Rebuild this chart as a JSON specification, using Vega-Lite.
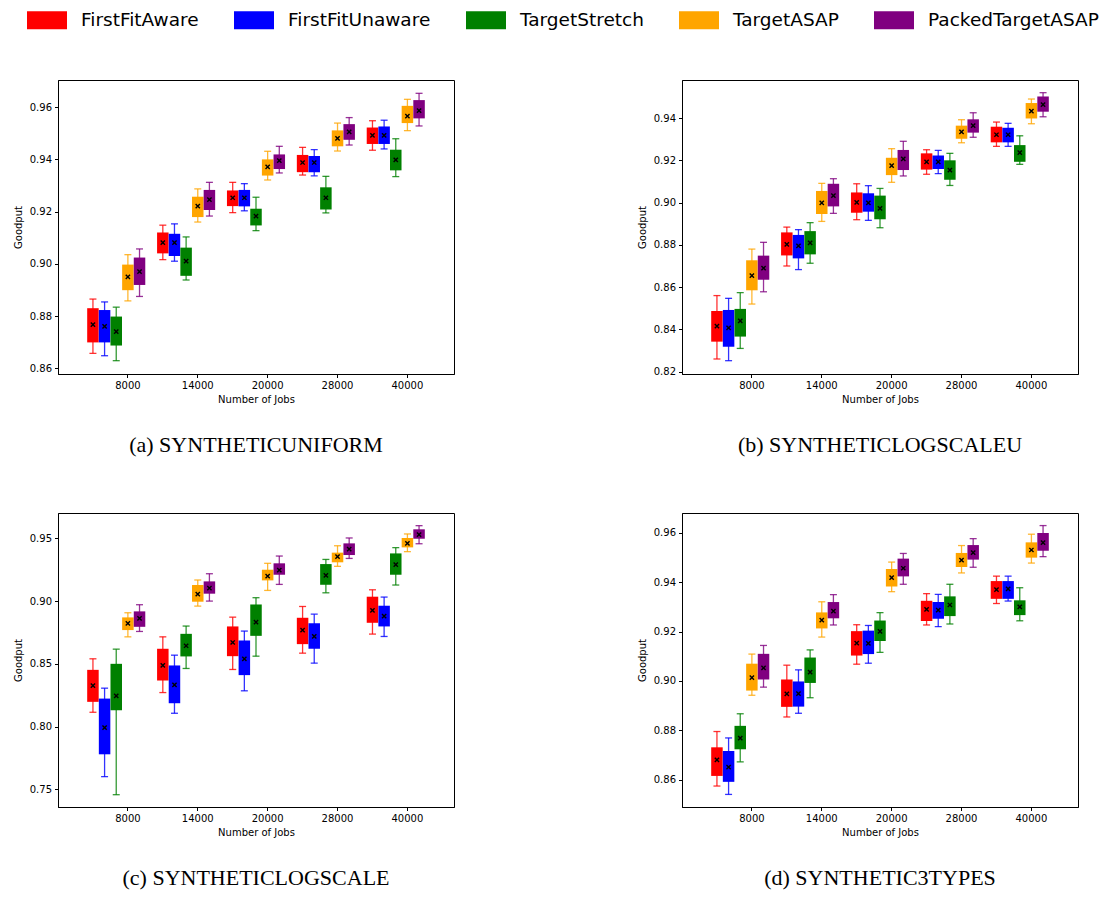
{
"$schema":"https://vega.github.io/schema/vega-lite/v6.json",
"padding":{"left":12,"top":0,"right":5,"bottom":5},
"bounds":"flush",
"columns":2,
"spacing":{"row":139,"column":228},
"datasets":{
"a":[
{"jobs":8000,"method":"FirstFitAware","min":0.8657,"q1":0.8699,"q3":0.8830,"max":0.8865,"mean":0.8767},
{"jobs":8000,"method":"FirstFitUnaware","min":0.8648,"q1":0.8699,"q3":0.8823,"max":0.8854,"mean":0.8760},
{"jobs":8000,"method":"TargetStretch","min":0.8629,"q1":0.8687,"q3":0.8798,"max":0.8834,"mean":0.8740},
{"jobs":8000,"method":"TargetASAP","min":0.8858,"q1":0.8899,"q3":0.8997,"max":0.9035,"mean":0.8950},
{"jobs":8000,"method":"PackedTargetASAP","min":0.8875,"q1":0.8919,"q3":0.9024,"max":0.9057,"mean":0.8970},
{"jobs":14000,"method":"FirstFitAware","min":0.9016,"q1":0.9040,"q3":0.9120,"max":0.9148,"mean":0.9081},
{"jobs":14000,"method":"FirstFitUnaware","min":0.9010,"q1":0.9030,"q3":0.9115,"max":0.9153,"mean":0.9081},
{"jobs":14000,"method":"TargetStretch","min":0.8938,"q1":0.8954,"q3":0.9062,"max":0.9103,"mean":0.9010},
{"jobs":14000,"method":"TargetASAP","min":0.9160,"q1":0.9179,"q3":0.9257,"max":0.9287,"mean":0.9221},
{"jobs":14000,"method":"PackedTargetASAP","min":0.9183,"q1":0.9206,"q3":0.9283,"max":0.9312,"mean":0.9246},
{"jobs":20000,"method":"FirstFitAware","min":0.9196,"q1":0.9221,"q3":0.9281,"max":0.9312,"mean":0.9253},
{"jobs":20000,"method":"FirstFitUnaware","min":0.9203,"q1":0.9220,"q3":0.9283,"max":0.9307,"mean":0.9253},
{"jobs":20000,"method":"TargetStretch","min":0.9127,"q1":0.9147,"q3":0.9211,"max":0.9255,"mean":0.9183},
{"jobs":20000,"method":"TargetASAP","min":0.9321,"q1":0.9338,"q3":0.9400,"max":0.9431,"mean":0.9371},
{"jobs":20000,"method":"PackedTargetASAP","min":0.9348,"q1":0.9363,"q3":0.9419,"max":0.9450,"mean":0.9395},
{"jobs":28000,"method":"FirstFitAware","min":0.9340,"q1":0.9351,"q3":0.9417,"max":0.9446,"mean":0.9388},
{"jobs":28000,"method":"FirstFitUnaware","min":0.9337,"q1":0.9351,"q3":0.9413,"max":0.9437,"mean":0.9388},
{"jobs":28000,"method":"TargetStretch","min":0.9195,"q1":0.9208,"q3":0.9293,"max":0.9335,"mean":0.9253},
{"jobs":28000,"method":"TargetASAP","min":0.9432,"q1":0.9450,"q3":0.9511,"max":0.9539,"mean":0.9480},
{"jobs":28000,"method":"PackedTargetASAP","min":0.9455,"q1":0.9475,"q3":0.9535,"max":0.9560,"mean":0.9505},
{"jobs":40000,"method":"FirstFitAware","min":0.9435,"q1":0.9459,"q3":0.9522,"max":0.9548,"mean":0.9492},
{"jobs":40000,"method":"FirstFitUnaware","min":0.9440,"q1":0.9459,"q3":0.9526,"max":0.9550,"mean":0.9492},
{"jobs":40000,"method":"TargetStretch","min":0.9334,"q1":0.9358,"q3":0.9437,"max":0.9479,"mean":0.9398},
{"jobs":40000,"method":"TargetASAP","min":0.9510,"q1":0.9539,"q3":0.9605,"max":0.9630,"mean":0.9566},
{"jobs":40000,"method":"PackedTargetASAP","min":0.9528,"q1":0.9557,"q3":0.9627,"max":0.9653,"mean":0.9587}
],
"b":[
{"jobs":8000,"method":"FirstFitAware","min":0.8260,"q1":0.8342,"q3":0.8487,"max":0.8560,"mean":0.8416},
{"jobs":8000,"method":"FirstFitUnaware","min":0.8252,"q1":0.8318,"q3":0.8492,"max":0.8547,"mean":0.8407},
{"jobs":8000,"method":"TargetStretch","min":0.8310,"q1":0.8366,"q3":0.8497,"max":0.8574,"mean":0.8440},
{"jobs":8000,"method":"TargetASAP","min":0.8520,"q1":0.8585,"q3":0.8727,"max":0.8780,"mean":0.8654},
{"jobs":8000,"method":"PackedTargetASAP","min":0.8578,"q1":0.8635,"q3":0.8749,"max":0.8812,"mean":0.8690},
{"jobs":14000,"method":"FirstFitAware","min":0.8700,"q1":0.8750,"q3":0.8859,"max":0.8884,"mean":0.8802},
{"jobs":14000,"method":"FirstFitUnaware","min":0.8683,"q1":0.8736,"q3":0.8847,"max":0.8872,"mean":0.8795},
{"jobs":14000,"method":"TargetStretch","min":0.8713,"q1":0.8755,"q3":0.8865,"max":0.8905,"mean":0.8809},
{"jobs":14000,"method":"TargetASAP","min":0.8911,"q1":0.8946,"q3":0.9055,"max":0.9091,"mean":0.8999},
{"jobs":14000,"method":"PackedTargetASAP","min":0.8949,"q1":0.8982,"q3":0.9089,"max":0.9113,"mean":0.9033},
{"jobs":20000,"method":"FirstFitAware","min":0.8919,"q1":0.8952,"q3":0.9048,"max":0.9089,"mean":0.9001},
{"jobs":20000,"method":"FirstFitUnaware","min":0.8916,"q1":0.8957,"q3":0.9044,"max":0.9080,"mean":0.8999},
{"jobs":20000,"method":"TargetStretch","min":0.8881,"q1":0.8921,"q3":0.9033,"max":0.9067,"mean":0.8973},
{"jobs":20000,"method":"TargetASAP","min":0.9096,"q1":0.9130,"q3":0.9212,"max":0.9255,"mean":0.9175},
{"jobs":20000,"method":"PackedTargetASAP","min":0.9126,"q1":0.9154,"q3":0.9249,"max":0.9290,"mean":0.9207},
{"jobs":28000,"method":"FirstFitAware","min":0.9134,"q1":0.9156,"q3":0.9233,"max":0.9250,"mean":0.9193},
{"jobs":28000,"method":"FirstFitUnaware","min":0.9137,"q1":0.9159,"q3":0.9223,"max":0.9247,"mean":0.9193},
{"jobs":28000,"method":"TargetStretch","min":0.9081,"q1":0.9108,"q3":0.9200,"max":0.9233,"mean":0.9154},
{"jobs":28000,"method":"TargetASAP","min":0.9283,"q1":0.9302,"q3":0.9364,"max":0.9392,"mean":0.9335},
{"jobs":28000,"method":"PackedTargetASAP","min":0.9309,"q1":0.9331,"q3":0.9394,"max":0.9425,"mean":0.9364},
{"jobs":40000,"method":"FirstFitAware","min":0.9266,"q1":0.9285,"q3":0.9359,"max":0.9381,"mean":0.9321},
{"jobs":40000,"method":"FirstFitUnaware","min":0.9266,"q1":0.9285,"q3":0.9354,"max":0.9375,"mean":0.9321},
{"jobs":40000,"method":"TargetStretch","min":0.9181,"q1":0.9193,"q3":0.9272,"max":0.9316,"mean":0.9236},
{"jobs":40000,"method":"TargetASAP","min":0.9373,"q1":0.9398,"q3":0.9471,"max":0.9490,"mean":0.9433},
{"jobs":40000,"method":"PackedTargetASAP","min":0.9406,"q1":0.9430,"q3":0.9502,"max":0.9520,"mean":0.9463}
],
"c":[
{"jobs":8000,"method":"FirstFitAware","min":0.8114,"q1":0.8197,"q3":0.8452,"max":0.8540,"mean":0.8327},
{"jobs":8000,"method":"FirstFitUnaware","min":0.7601,"q1":0.7779,"q3":0.8223,"max":0.8306,"mean":0.7992},
{"jobs":8000,"method":"TargetStretch","min":0.7457,"q1":0.8130,"q3":0.8500,"max":0.8617,"mean":0.8245},
{"jobs":8000,"method":"TargetASAP","min":0.8715,"q1":0.8769,"q3":0.8870,"max":0.8907,"mean":0.8822},
{"jobs":8000,"method":"PackedTargetASAP","min":0.8758,"q1":0.8795,"q3":0.8918,"max":0.8971,"mean":0.8862},
{"jobs":14000,"method":"FirstFitAware","min":0.8271,"q1":0.8367,"q3":0.8620,"max":0.8715,"mean":0.8487},
{"jobs":14000,"method":"FirstFitUnaware","min":0.8106,"q1":0.8186,"q3":0.8487,"max":0.8569,"mean":0.8332},
{"jobs":14000,"method":"TargetStretch","min":0.8463,"q1":0.8559,"q3":0.8739,"max":0.8801,"mean":0.8644},
{"jobs":14000,"method":"TargetASAP","min":0.8960,"q1":0.8995,"q3":0.9128,"max":0.9168,"mean":0.9056},
{"jobs":14000,"method":"PackedTargetASAP","min":0.9000,"q1":0.9059,"q3":0.9157,"max":0.9218,"mean":0.9104},
{"jobs":20000,"method":"FirstFitAware","min":0.8455,"q1":0.8561,"q3":0.8798,"max":0.8872,"mean":0.8670},
{"jobs":20000,"method":"FirstFitUnaware","min":0.8285,"q1":0.8410,"q3":0.8686,"max":0.8761,"mean":0.8540},
{"jobs":20000,"method":"TargetStretch","min":0.8561,"q1":0.8723,"q3":0.8973,"max":0.9027,"mean":0.8832},
{"jobs":20000,"method":"TargetASAP","min":0.9085,"q1":0.9165,"q3":0.9250,"max":0.9301,"mean":0.9199},
{"jobs":20000,"method":"PackedTargetASAP","min":0.9133,"q1":0.9210,"q3":0.9301,"max":0.9359,"mean":0.9247},
{"jobs":28000,"method":"FirstFitAware","min":0.8585,"q1":0.8657,"q3":0.8867,"max":0.8957,"mean":0.8769},
{"jobs":28000,"method":"FirstFitUnaware","min":0.8505,"q1":0.8620,"q3":0.8824,"max":0.8896,"mean":0.8718},
{"jobs":28000,"method":"TargetStretch","min":0.9066,"q1":0.9130,"q3":0.9295,"max":0.9332,"mean":0.9205},
{"jobs":28000,"method":"TargetASAP","min":0.9277,"q1":0.9309,"q3":0.9386,"max":0.9441,"mean":0.9354},
{"jobs":28000,"method":"PackedTargetASAP","min":0.9340,"q1":0.9367,"q3":0.9460,"max":0.9503,"mean":0.9415},
{"jobs":40000,"method":"FirstFitAware","min":0.8737,"q1":0.8827,"q3":0.9035,"max":0.9090,"mean":0.8926},
{"jobs":40000,"method":"FirstFitUnaware","min":0.8718,"q1":0.8798,"q3":0.8963,"max":0.9032,"mean":0.8880},
{"jobs":40000,"method":"TargetStretch","min":0.9128,"q1":0.9210,"q3":0.9380,"max":0.9426,"mean":0.9290},
{"jobs":40000,"method":"TargetASAP","min":0.9394,"q1":0.9428,"q3":0.9503,"max":0.9535,"mean":0.9460},
{"jobs":40000,"method":"PackedTargetASAP","min":0.9457,"q1":0.9497,"q3":0.9572,"max":0.9601,"mean":0.9529}
],
"d":[
{"jobs":8000,"method":"FirstFitAware","min":0.8574,"q1":0.8615,"q3":0.8731,"max":0.8795,"mean":0.8680},
{"jobs":8000,"method":"FirstFitUnaware","min":0.8540,"q1":0.8591,"q3":0.8716,"max":0.8769,"mean":0.8651},
{"jobs":8000,"method":"TargetStretch","min":0.8672,"q1":0.8723,"q3":0.8818,"max":0.8867,"mean":0.8768},
{"jobs":8000,"method":"TargetASAP","min":0.8942,"q1":0.8961,"q3":0.9070,"max":0.9109,"mean":0.9014},
{"jobs":8000,"method":"PackedTargetASAP","min":0.8975,"q1":0.9006,"q3":0.9110,"max":0.9144,"mean":0.9053},
{"jobs":14000,"method":"FirstFitAware","min":0.8854,"q1":0.8895,"q3":0.9006,"max":0.9064,"mean":0.8948},
{"jobs":14000,"method":"FirstFitUnaware","min":0.8869,"q1":0.8896,"q3":0.8998,"max":0.9045,"mean":0.8949},
{"jobs":14000,"method":"TargetStretch","min":0.8932,"q1":0.8992,"q3":0.9095,"max":0.9126,"mean":0.9036},
{"jobs":14000,"method":"TargetASAP","min":0.9178,"q1":0.9213,"q3":0.9278,"max":0.9321,"mean":0.9247},
{"jobs":14000,"method":"PackedTargetASAP","min":0.9227,"q1":0.9254,"q3":0.9320,"max":0.9350,"mean":0.9283},
{"jobs":20000,"method":"FirstFitAware","min":0.9068,"q1":0.9103,"q3":0.9202,"max":0.9228,"mean":0.9153},
{"jobs":20000,"method":"FirstFitUnaware","min":0.9072,"q1":0.9109,"q3":0.9204,"max":0.9225,"mean":0.9152},
{"jobs":20000,"method":"TargetStretch","min":0.9116,"q1":0.9162,"q3":0.9245,"max":0.9277,"mean":0.9201},
{"jobs":20000,"method":"TargetASAP","min":0.9362,"q1":0.9383,"q3":0.9454,"max":0.9482,"mean":0.9419},
{"jobs":20000,"method":"PackedTargetASAP","min":0.9392,"q1":0.9424,"q3":0.9496,"max":0.9517,"mean":0.9457},
{"jobs":28000,"method":"FirstFitAware","min":0.9227,"q1":0.9243,"q3":0.9325,"max":0.9354,"mean":0.9290},
{"jobs":28000,"method":"FirstFitUnaware","min":0.9220,"q1":0.9252,"q3":0.9320,"max":0.9351,"mean":0.9287},
{"jobs":28000,"method":"TargetStretch","min":0.9231,"q1":0.9263,"q3":0.9343,"max":0.9392,"mean":0.9308},
{"jobs":28000,"method":"TargetASAP","min":0.9438,"q1":0.9462,"q3":0.9519,"max":0.9549,"mean":0.9490},
{"jobs":28000,"method":"PackedTargetASAP","min":0.9461,"q1":0.9492,"q3":0.9551,"max":0.9577,"mean":0.9520},
{"jobs":40000,"method":"FirstFitAware","min":0.9314,"q1":0.9333,"q3":0.9405,"max":0.9425,"mean":0.9370},
{"jobs":40000,"method":"FirstFitUnaware","min":0.9324,"q1":0.9333,"q3":0.9405,"max":0.9425,"mean":0.9373},
{"jobs":40000,"method":"TargetStretch","min":0.9244,"q1":0.9267,"q3":0.9327,"max":0.9378,"mean":0.9300},
{"jobs":40000,"method":"TargetASAP","min":0.9478,"q1":0.9500,"q3":0.9562,"max":0.9595,"mean":0.9531},
{"jobs":40000,"method":"PackedTargetASAP","min":0.9504,"q1":0.9528,"q3":0.9600,"max":0.9630,"mean":0.9561}
]
},
"concat":[
{"width":396,"height":294,"data":{"name":"a"},"title":{"text":"(a) SYNTHETICUNIFORM"},
"encoding":{
"x":{"field":"jobs","type":"ordinal","title":"Number of Jobs","scale":{"paddingInner":0,"paddingOuter":0.3333,"align":0.75}},
"xOffset":{"field":"method","type":"nominal","sort":["FirstFitAware","FirstFitUnaware","TargetStretch","TargetASAP","PackedTargetASAP"],"scale":{"type":"point","padding":1,"align":0}},
"color":{"field":"method","type":"nominal","scale":{"domain":["FirstFitAware","FirstFitUnaware","TargetStretch","TargetASAP","PackedTargetASAP"],"range":["#ff0000","#0000ff","#008000","#ffa500","#800080"]},"legend":{"orient":"none","legendX":-31,"legendY":-80,"direction":"horizontal","title":null}}
},
"layer":[
{"mark":{"type":"rule","strokeWidth":1.3,"opacity":0.8},"encoding":{"y":{"field":"min","type":"quantitative","title":"Goodput","scale":{"domain":[0.8578,0.9704],"nice":false,"zero":false},"axis":{"values":[0.86,0.88,0.90,0.92,0.94,0.96],"format":".2f"}},"y2":{"field":"max"}}},
{"mark":{"type":"tick","orient":"horizontal","size":7,"thickness":1.3,"opacity":0.8},"encoding":{"y":{"field":"min","type":"quantitative","title":"Goodput"}}},
{"mark":{"type":"tick","orient":"horizontal","size":7,"thickness":1.3,"opacity":0.8},"encoding":{"y":{"field":"max","type":"quantitative","title":"Goodput"}}},
{"mark":{"type":"bar","size":11.5,"opacity":1},"encoding":{"y":{"field":"q1","type":"quantitative","title":"Goodput"},"y2":{"field":"q3"}}},
{"mark":{"type":"point","shape":"M-1,-1L1,1M-1,1L1,-1","size":18,"filled":false,"strokeWidth":1.4,"opacity":1},"encoding":{"y":{"field":"mean","type":"quantitative","title":"Goodput"},"color":{"value":"#000000"}}}
]},
{"width":396,"height":294,"data":{"name":"b"},"title":{"text":"(b) SYNTHETICLOGSCALEU"},
"encoding":{
"x":{"field":"jobs","type":"ordinal","title":"Number of Jobs","scale":{"paddingInner":0,"paddingOuter":0.3333,"align":0.75}},
"xOffset":{"field":"method","type":"nominal","sort":["FirstFitAware","FirstFitUnaware","TargetStretch","TargetASAP","PackedTargetASAP"],"scale":{"type":"point","padding":1,"align":0}},
"color":{"field":"method","type":"nominal","scale":{"domain":["FirstFitAware","FirstFitUnaware","TargetStretch","TargetASAP","PackedTargetASAP"],"range":["#ff0000","#0000ff","#008000","#ffa500","#800080"]},"legend":{"orient":"none","legendX":-31,"legendY":-80,"direction":"horizontal","title":null}}
},
"layer":[
{"mark":{"type":"rule","strokeWidth":1.3,"opacity":0.8},"encoding":{"y":{"field":"min","type":"quantitative","title":"Goodput","scale":{"domain":[0.8189,0.958],"nice":false,"zero":false},"axis":{"values":[0.82,0.84,0.86,0.88,0.90,0.92,0.94],"format":".2f"}},"y2":{"field":"max"}}},
{"mark":{"type":"tick","orient":"horizontal","size":7,"thickness":1.3,"opacity":0.8},"encoding":{"y":{"field":"min","type":"quantitative","title":"Goodput"}}},
{"mark":{"type":"tick","orient":"horizontal","size":7,"thickness":1.3,"opacity":0.8},"encoding":{"y":{"field":"max","type":"quantitative","title":"Goodput"}}},
{"mark":{"type":"bar","size":11.5,"opacity":1},"encoding":{"y":{"field":"q1","type":"quantitative","title":"Goodput"},"y2":{"field":"q3"}}},
{"mark":{"type":"point","shape":"M-1,-1L1,1M-1,1L1,-1","size":18,"filled":false,"strokeWidth":1.4,"opacity":1},"encoding":{"y":{"field":"mean","type":"quantitative","title":"Goodput"},"color":{"value":"#000000"}}}
]},
{"width":396,"height":294,"data":{"name":"c"},"title":{"text":"(c) SYNTHETICLOGSCALE"},
"encoding":{
"x":{"field":"jobs","type":"ordinal","title":"Number of Jobs","scale":{"paddingInner":0,"paddingOuter":0.3333,"align":0.75}},
"xOffset":{"field":"method","type":"nominal","sort":["FirstFitAware","FirstFitUnaware","TargetStretch","TargetASAP","PackedTargetASAP"],"scale":{"type":"point","padding":1,"align":0}},
"color":{"field":"method","type":"nominal","scale":{"domain":["FirstFitAware","FirstFitUnaware","TargetStretch","TargetASAP","PackedTargetASAP"],"range":["#ff0000","#0000ff","#008000","#ffa500","#800080"]},"legend":{"orient":"none","legendX":-31,"legendY":-80,"direction":"horizontal","title":null}}
},
"layer":[
{"mark":{"type":"rule","strokeWidth":1.3,"opacity":0.8},"encoding":{"y":{"field":"min","type":"quantitative","title":"Goodput","scale":{"domain":[0.7359,0.9702],"nice":false,"zero":false},"axis":{"values":[0.75,0.80,0.85,0.90,0.95],"format":".2f"}},"y2":{"field":"max"}}},
{"mark":{"type":"tick","orient":"horizontal","size":7,"thickness":1.3,"opacity":0.8},"encoding":{"y":{"field":"min","type":"quantitative","title":"Goodput"}}},
{"mark":{"type":"tick","orient":"horizontal","size":7,"thickness":1.3,"opacity":0.8},"encoding":{"y":{"field":"max","type":"quantitative","title":"Goodput"}}},
{"mark":{"type":"bar","size":11.5,"opacity":1},"encoding":{"y":{"field":"q1","type":"quantitative","title":"Goodput"},"y2":{"field":"q3"}}},
{"mark":{"type":"point","shape":"M-1,-1L1,1M-1,1L1,-1","size":18,"filled":false,"strokeWidth":1.4,"opacity":1},"encoding":{"y":{"field":"mean","type":"quantitative","title":"Goodput"},"color":{"value":"#000000"}}}
]},
{"width":396,"height":294,"data":{"name":"d"},"title":{"text":"(d) SYNTHETIC3TYPES"},
"encoding":{
"x":{"field":"jobs","type":"ordinal","title":"Number of Jobs","scale":{"paddingInner":0,"paddingOuter":0.3333,"align":0.75}},
"xOffset":{"field":"method","type":"nominal","sort":["FirstFitAware","FirstFitUnaware","TargetStretch","TargetASAP","PackedTargetASAP"],"scale":{"type":"point","padding":1,"align":0}},
"color":{"field":"method","type":"nominal","scale":{"domain":["FirstFitAware","FirstFitUnaware","TargetStretch","TargetASAP","PackedTargetASAP"],"range":["#ff0000","#0000ff","#008000","#ffa500","#800080"]},"legend":{"orient":"none","legendX":-31,"legendY":-80,"direction":"horizontal","title":null}}
},
"layer":[
{"mark":{"type":"rule","strokeWidth":1.3,"opacity":0.8},"encoding":{"y":{"field":"min","type":"quantitative","title":"Goodput","scale":{"domain":[0.8489,0.9681],"nice":false,"zero":false},"axis":{"values":[0.86,0.88,0.90,0.92,0.94,0.96],"format":".2f"}},"y2":{"field":"max"}}},
{"mark":{"type":"tick","orient":"horizontal","size":7,"thickness":1.3,"opacity":0.8},"encoding":{"y":{"field":"min","type":"quantitative","title":"Goodput"}}},
{"mark":{"type":"tick","orient":"horizontal","size":7,"thickness":1.3,"opacity":0.8},"encoding":{"y":{"field":"max","type":"quantitative","title":"Goodput"}}},
{"mark":{"type":"bar","size":11.5,"opacity":1},"encoding":{"y":{"field":"q1","type":"quantitative","title":"Goodput"},"y2":{"field":"q3"}}},
{"mark":{"type":"point","shape":"M-1,-1L1,1M-1,1L1,-1","size":18,"filled":false,"strokeWidth":1.4,"opacity":1},"encoding":{"y":{"field":"mean","type":"quantitative","title":"Goodput"},"color":{"value":"#000000"}}}
]}
],
"resolve":{"scale":{"y":"independent","x":"independent","xOffset":"independent"}},
"config":{
"font":"DejaVu Sans",
"view":{"stroke":"#000000","strokeWidth":1},
"axis":{"labelFont":"DejaVu Sans","titleFont":"DejaVu Sans","labelFontSize":10,"titleFontSize":10,"titleFontWeight":"normal","labelColor":"#000000","titleColor":"#000000","tickColor":"#000000","domainColor":"#000000","tickSize":3.5,"labelPadding":3,"grid":false},
"axisX":{"labelAngle":0,"titlePadding":4},
"axisY":{"titlePadding":6},
"title":{"orient":"bottom","font":"Liberation Serif","fontSize":22,"fontWeight":"normal","color":"#000000","offset":30,"anchor":"middle"},
"legend":{"symbolType":"M-1,-0.45H1V0.45H-1Z","symbolSize":1600,"symbolStrokeWidth":0,"symbolOpacity":1,"labelFont":"DejaVu Sans","labelFontSize":18.5,"labelColor":"#000000","labelOffset":14,"columnPadding":35,"labelLimit":300}
}
}
